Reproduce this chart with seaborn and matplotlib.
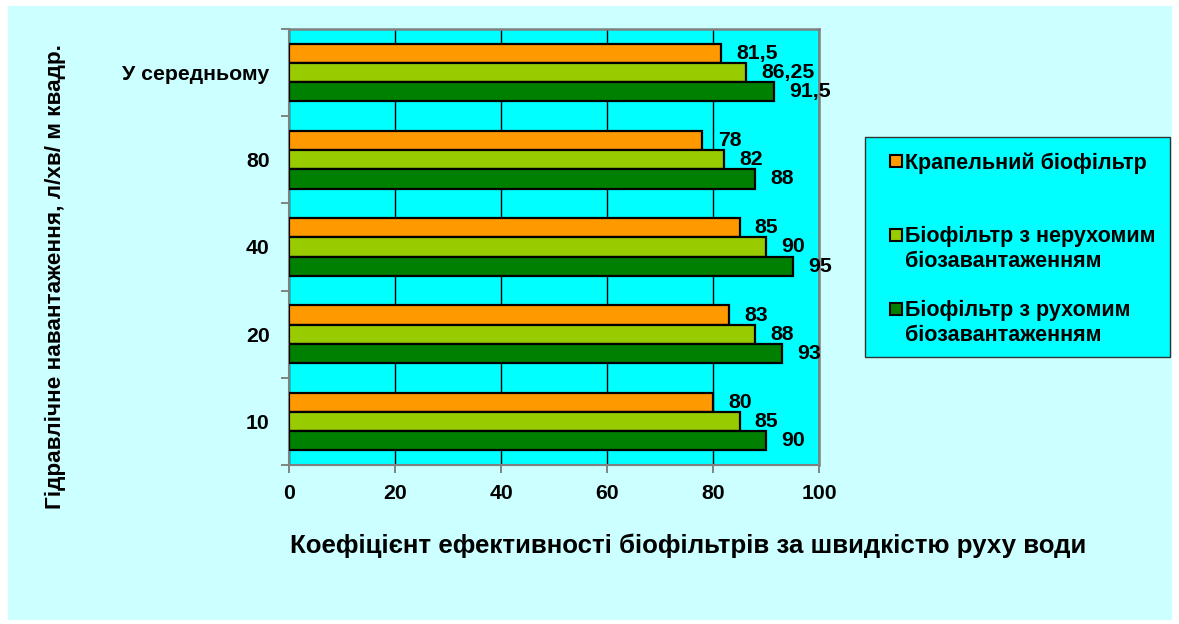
import matplotlib
matplotlib.use("Agg")
import matplotlib.pyplot as plt
from matplotlib.patches import Rectangle
from matplotlib.lines import Line2D
import seaborn as sns
import pandas as pd
import numpy as np

categories = ["У середньому", "80", "40", "20", "10"]
series = ["Крапельний біофільтр",
          "Біофільтр з нерухомим\nбіозавантаженням",
          "Біофільтр з рухомим\nбіозавантаженням"]
drip = [81.5, 78, 85, 83, 80]
fixed = [86.25, 82, 90, 88, 85]
moving = [91.5, 88, 95, 93, 90]
colors = ["#FF9900", "#99CC00", "#008000"]
xticks = [0, 20, 40, 60, 80, 100]

rows = []
for s, vals in zip(series, [drip, fixed, moving]):
    for c, v in zip(categories, vals):
        rows.append({"cat": c, "series": s, "value": v})
df = pd.DataFrame(rows)

sns.set_theme(style="white")
plt.rcParams["font.family"] = ["Liberation Sans", "DejaVu Sans"]
plt.rcParams["font.weight"] = "bold"
plt.rcParams["text.color"] = "black"
plt.rcParams["axes.labelcolor"] = "black"
plt.rcParams["xtick.labelcolor"] = "black"
plt.rcParams["ytick.labelcolor"] = "black"

W, H = 1179, 624
fig = plt.figure(figsize=(W / 100, H / 100), dpi=100, facecolor="white")
fig.patches.append(Rectangle((8 / W, 1 - 620 / H), (1172 - 8) / W, (620 - 6) / H,
                             transform=fig.transFigure, facecolor="#CCFFFF",
                             edgecolor="none", zorder=-10))
ax = fig.add_axes([289 / W, 1 - 465 / H, 530 / W, 436 / H])
ax.set_facecolor("#00FFFF")

sns.barplot(data=df, y="cat", x="value", hue="series", orient="h",
            order=categories, hue_order=series, palette=colors,
            width=0.66, edgecolor="black", linewidth=1.6, ax=ax,
            legend=False, saturation=1, zorder=3)

def fmt(v):
    return str(int(v)) if float(v).is_integer() else ("%g" % v).replace(".", ",")

for cont, vals in zip(ax.containers, [drip, fixed, moving]):
    ax.bar_label(cont, labels=[fmt(v) for v in vals], padding=11,
                 fontsize=15.3, fontweight="bold", color="black")

ax.set_xlim(0, 100)
ax.set_xticks(xticks)
ax.set_xticklabels([str(t) for t in xticks], fontsize=15.3, fontweight="bold")
ax.set_ylim(len(categories) - 0.5, -0.5)
ax.set_yticks(range(len(categories)))
ax.set_yticklabels(categories, fontsize=15.3, fontweight="bold")
ax.set_yticks(np.arange(-0.5, len(categories), 1), minor=True)
ax.tick_params(axis="y", which="major", length=0, pad=14)
ax.tick_params(axis="y", which="minor", length=6, color="#707070", width=1.2, direction="out", left=True)
ax.tick_params(axis="x", which="major", length=6, color="#707070", width=1.2, direction="out", bottom=True, pad=8)
ax.grid(axis="x", color="black", linewidth=1, zorder=1)
ax.set_axisbelow(True)
for name, sp in ax.spines.items():
    sp.set_visible(True)
    sp.set_color("#808080")
    sp.set_linewidth(1.8 if name in ("right", "top") else 1.5)

ax.set_xlabel("Коефіцієнт ефективності біофільтрів за швидкістю руху води",
              fontsize=18.6, fontweight="bold")
ax.xaxis.set_label_coords((688 - 289) / 530, (465 - 534) / 436)
ax.set_ylabel("Гідравлічне навантаження, л/хв/ м квадр.", fontsize=16.2, fontweight="bold")
ax.yaxis.set_label_coords((66 - 289) / 530, (465 - 277) / 436)

# legend frame (decoration) and legend entries
fig.patches.append(Rectangle((865 / W, 1 - 357 / H), (1170 - 865) / W, (357 - 137) / H,
                             transform=fig.transFigure, facecolor="#00FFFF",
                             edgecolor="#333333", linewidth=1.0, zorder=5))
handles = [Line2D([0], [0], marker="s", linestyle="none", markersize=8.5,
                  markerfacecolor=c, markeredgecolor="black", markeredgewidth=1.5)
           for c in colors]
leg_labels = [series[0] + "\n", series[1], series[2]]
leg = fig.legend(handles, leg_labels, loc="upper left",
                 bbox_to_anchor=(888 / W, 1 - 152 / H),
                 prop={"size": 15.5, "weight": "bold"}, frameon=False,
                 labelspacing=1.33, handlelength=0.7, handleheight=1.1,
                 handletextpad=0.1, borderpad=0, borderaxespad=0)
leg.set_zorder(6)
try:
    for hp in leg._legend_handle_box.get_children()[0].get_children():
        hp.align = "top"
except Exception:
    pass

fig.savefig("out.png", dpi=100, facecolor="white")
